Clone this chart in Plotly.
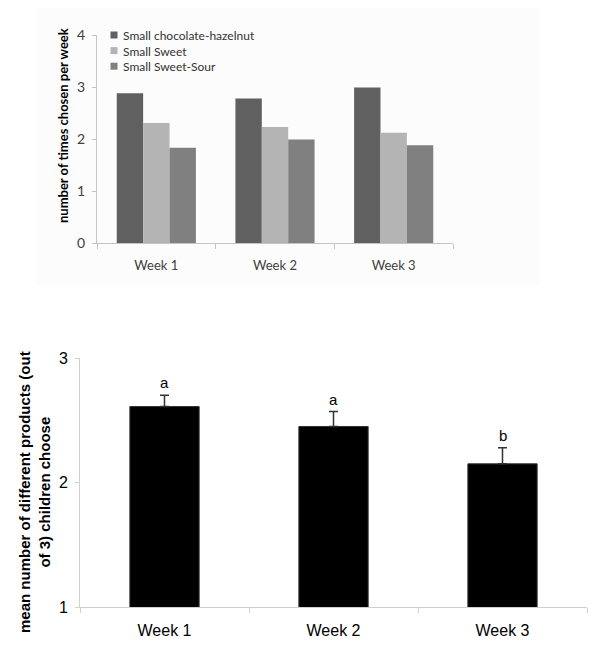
import plotly.graph_objects as go

# ---- data ----
weeks = ["Week 1", "Week 2", "Week 3"]
series_names = ["Small chocolate-hazelnut", "Small Sweet", "Small Sweet-Sour"]
choc_hazelnut = [2.88, 2.78, 2.99]
sweet = [2.31, 2.23, 2.12]
sweet_sour = [1.83, 1.99, 1.88]
series_colors = ["#606060", "#b4b4b4", "#808080"]

mean_products = [2.61, 2.45, 2.15]
mean_err = [0.09, 0.12, 0.13]
sig_letters = ["a", "a", "b"]

OFF = 8  # page body margin
W, H = 600 - OFF, 659 - OFF
fig = go.Figure()

for name, vals, col in zip(series_names, [choc_hazelnut, sweet, sweet_sour], series_colors):
    fig.add_trace(go.Bar(x=weeks, y=vals, name=name, marker=dict(color=col, line=dict(width=0)),
                         showlegend=False, xaxis="x", yaxis="y"))

fig.add_trace(go.Bar(x=weeks, y=mean_products, width=0.41, showlegend=False,
                     marker=dict(color="#000000", line=dict(color="#333333", width=1)),
                     error_y=dict(type="data", array=mean_err, arrayminus=[0] * len(mean_err),
                                  symmetric=False, color="#333333", thickness=1.5, width=4.5),
                     xaxis="x2", yaxis="y2"))


def px(x):
    return (x - OFF) / W


def py(y):
    return 1 - (y - OFF) / H


top_font = "Lato, Calibri, sans-serif"
bot_font = "Liberation Sans, Arial, sans-serif"

annotations = []
for wk, m, e, t in zip(weeks, mean_products, mean_err, sig_letters):
    annotations.append(dict(x=wk, y=m + e, xref="x2", yref="y2", text=t, showarrow=False,
                            xanchor="center", yanchor="bottom", yshift=2,
                            font=dict(family=bot_font, size=15, color="#000")))

# y-axis titles
annotations.append(dict(x=px(63), y=py(126), xref="paper", yref="paper", showarrow=False,
                        xanchor="center", yanchor="middle",
                        text="<b>number of times chosen per week</b>", textangle=-90,
                        font=dict(family=top_font, size=13, color="#000")))
annotations.append(dict(x=px(34), y=py(492), xref="paper", yref="paper", showarrow=False,
                        xanchor="center", yanchor="middle",
                        text="<b>mean number of different products (out<br>of 3) children choose</b>",
                        textangle=-90,
                        font=dict(family=bot_font, size=15, color="#000")))

# compact legend for top chart (one multi-line text block + colour squares)
LEG_FS = 12
row_h = LEG_FS * 1.3
mid = 50.6
shapes = [dict(type="rect", xref="paper", yref="paper", x0=px(36), x1=px(540), y0=py(286), y1=py(8),
               fillcolor="#fcfcfc", line=dict(width=0), layer="below")]
for i, col in enumerate(series_colors):
    cy = mid + (i - 1) * row_h
    shapes.append(dict(type="rect", xref="paper", yref="paper", x0=px(110.5), x1=px(117.5),
                       y0=py(cy + 3.5), y1=py(cy - 3.5), fillcolor=col, line=dict(width=0)))
annotations.append(dict(x=px(121), y=py(mid), xref="paper", yref="paper",
                        text="<br>".join(series_names), align="left",
                        showarrow=False, xanchor="left", yanchor="middle",
                        font=dict(family=top_font, size=LEG_FS, color="#333")))

fig.update_layout(
    width=W, height=H,
    margin=dict(l=0, r=0, t=0, b=0),
    paper_bgcolor="white", plot_bgcolor="rgba(0,0,0,0)",
    barmode="group", bargap=0.333, bargroupgap=0,
    showlegend=False,
    xaxis=dict(domain=[px(97), px(453)], anchor="y", showline=True, linecolor="#c4c4c4",
               ticks="outside", tickson="boundaries", ticklen=5, tickcolor="#c4c4c4",
               ticklabelstandoff=10,
               tickfont=dict(family=top_font, size=13, color="#404040"), showgrid=False,
               automargin=False),
    yaxis=dict(domain=[py(243), py(35)], anchor="x", range=[0, 4], dtick=1, showline=True,
               linecolor="#c4c4c4", ticks="outside", ticklen=4, tickcolor="#c4c4c4",
               ticklabelstandoff=4,
               showgrid=False, zeroline=False, automargin=False,
               tickfont=dict(family=top_font, size=14, color="#404040")),
    xaxis2=dict(domain=[px(80), px(587)], anchor="y2", showline=True, linecolor="#d0d0d0",
                ticks="outside", tickson="boundaries", ticklen=5, tickcolor="#d0d0d0",
                ticklabelstandoff=9,
                tickfont=dict(family=bot_font, size=16, color="#000"), showgrid=False,
                automargin=False),
    yaxis2=dict(domain=[py(607), py(358)], anchor="x2", range=[1, 3], dtick=1, showline=True,
                linecolor="#d0d0d0", ticks="outside", ticklen=4, tickcolor="#d0d0d0",
                ticklabelstandoff=4,
                showgrid=False, zeroline=False, automargin=False,
                tickfont=dict(family=bot_font, size=16, color="#000")),
    annotations=annotations,
    shapes=shapes,
)

fig.write_html("out.html")
